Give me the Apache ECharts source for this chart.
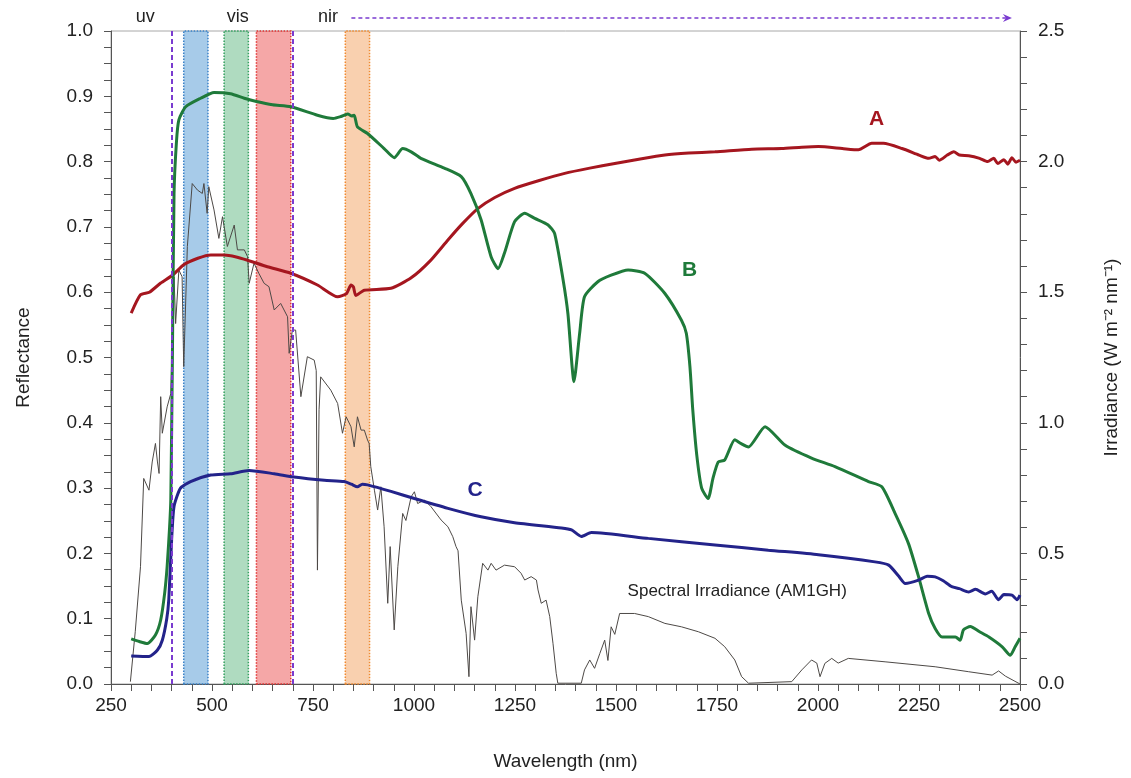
<!DOCTYPE html>
<html>
<head>
<meta charset="utf-8">
<script src="https://cdn.jsdelivr.net/npm/echarts@6/dist/echarts.min.js"></script>
<style>
  html, body { margin: 0; padding: 0; background: #fff; }
  #chart { width: 1131px; height: 778px; }
</style>
</head>
<body>
<div id="chart"></div>
<script>
// Reflectance spectra [wavelength nm, reflectance]
const curveA = [[300,0.568],[323,0.596],[345,0.600],[373,0.614],[402,0.626],[430,0.642],[465,0.652],[497,0.657],[530,0.657],[560,0.654],[588,0.649],[637,0.639],[695,0.629],[761,0.611],[811,0.593],[833,0.598],[844,0.611],[850,0.608],[856,0.595],[877,0.603],[943,0.606],[993,0.622],[1040,0.648],[1084,0.680],[1120,0.705],[1158,0.728],[1200,0.745],[1249,0.759],[1310,0.771],[1373,0.782],[1435,0.790],[1497,0.797],[1560,0.804],[1621,0.810],[1680,0.813],[1745,0.815],[1836,0.819],[1910,0.820],[1960,0.822],[2001,0.823],[2060,0.820],[2100,0.818],[2133,0.828],[2162,0.828],[2208,0.820],[2250,0.810],[2274,0.805],[2290,0.808],[2300,0.802],[2320,0.810],[2336,0.815],[2350,0.810],[2373,0.809],[2400,0.805],[2420,0.800],[2435,0.805],[2445,0.797],[2460,0.803],[2470,0.796],[2480,0.806],[2490,0.799],[2500,0.802]];

const curveB = [[300,0.069],[320,0.065],[340,0.062],[360,0.075],[373,0.098],[383,0.140],[389,0.180],[395,0.240],[398,0.282],[402,0.500],[406,0.750],[412,0.830],[418,0.864],[435,0.884],[472,0.897],[505,0.906],[546,0.904],[580,0.897],[610,0.892],[650,0.887],[695,0.884],[761,0.871],[800,0.866],[819,0.869],[836,0.873],[846,0.870],[852,0.871],[860,0.853],[885,0.843],[926,0.820],[951,0.806],[972,0.820],[993,0.815],[1017,0.805],[1075,0.790],[1117,0.777],[1141,0.751],[1166,0.711],[1191,0.654],[1208,0.636],[1224,0.660],[1249,0.708],[1274,0.721],[1299,0.713],[1332,0.703],[1348,0.690],[1369,0.619],[1381,0.567],[1396,0.463],[1410,0.537],[1422,0.593],[1455,0.616],[1488,0.626],[1530,0.634],[1571,0.629],[1621,0.598],[1662,0.557],[1674,0.537],[1683,0.486],[1690,0.420],[1700,0.350],[1712,0.300],[1728,0.284],[1740,0.315],[1753,0.340],[1769,0.343],[1794,0.374],[1810,0.368],[1828,0.363],[1869,0.394],[1918,0.366],[1984,0.346],[2042,0.333],[2125,0.310],[2158,0.302],[2191,0.261],[2224,0.215],[2249,0.164],[2274,0.108],[2290,0.085],[2307,0.072],[2340,0.072],[2352,0.067],[2360,0.083],[2377,0.088],[2400,0.080],[2423,0.072],[2456,0.057],[2476,0.044],[2488,0.057],[2500,0.070]];

const curveC = [[300,0.043],[344,0.042],[365,0.052],[377,0.067],[388,0.100],[393,0.129],[400,0.220],[406,0.272],[422,0.300],[447,0.310],[497,0.320],[546,0.322],[592,0.327],[654,0.322],[703,0.317],[778,0.312],[827,0.310],[845,0.306],[860,0.302],[872,0.306],[885,0.305],[943,0.295],[1001,0.284],[1084,0.269],[1166,0.256],[1249,0.247],[1365,0.239],[1390,0.236],[1414,0.226],[1439,0.232],[1580,0.223],[1745,0.213],[1877,0.205],[2001,0.198],[2141,0.187],[2175,0.182],[2200,0.165],[2216,0.154],[2249,0.159],[2270,0.165],[2290,0.164],[2310,0.158],[2331,0.149],[2350,0.146],[2373,0.141],[2390,0.145],[2414,0.138],[2430,0.142],[2447,0.129],[2460,0.137],[2480,0.136],[2493,0.129],[2500,0.136]];

// Solar spectral irradiance (AM1GH) [wavelength nm, W m-2 nm-1]
const irradiance = [[298,0.009],[310,0.20],[323,0.449],[331,0.787],[344,0.742],[352,0.85],[360,0.921],[365,0.85],[369,0.806],[373,1.100],[377,0.960],[389,1.061],[398,1.112],[406,1.559],[410,1.380],[418,1.585],[426,1.559],[430,1.215],[439,1.675],[451,1.916],[464,1.891],[476,1.878],[480,1.916],[488,1.802],[492,1.904],[505,1.815],[517,1.706],[526,1.789],[538,1.675],[555,1.757],[563,1.662],[580,1.662],[588,1.636],[592,1.534],[604,1.611],[616,1.572],[629,1.534],[641,1.521],[654,1.432],[670,1.457],[687,1.406],[691,1.266],[699,1.355],[707,1.355],[720,1.100],[736,1.253],[753,1.240],[758,1.20],[761,0.436],[765,1.05],[769,1.176],[794,1.125],[811,1.074],[823,0.960],[832,1.023],[844,0.985],[852,0.908],[860,1.023],[869,0.972],[877,0.972],[885,0.934],[889,0.921],[893,0.832],[902,0.742],[910,0.666],[918,0.755],[926,0.602],[935,0.309],[941,0.526],[951,0.207],[960,0.449],[972,0.653],[980,0.626],[993,0.717],[1001,0.736],[1009,0.691],[1026,0.704],[1042,0.679],[1067,0.628],[1084,0.602],[1096,0.564],[1104,0.526],[1109,0.510],[1117,0.321],[1129,0.194],[1136,0.028],[1141,0.296],[1150,0.168],[1158,0.334],[1170,0.462],[1183,0.436],[1191,0.462],[1203,0.436],[1224,0.455],[1249,0.449],[1265,0.424],[1274,0.398],[1290,0.411],[1303,0.398],[1307,0.360],[1315,0.309],[1327,0.321],[1336,0.258],[1344,0.156],[1352,0.041],[1356,0.003],[1414,0.003],[1422,0.054],[1435,0.092],[1447,0.060],[1460,0.117],[1472,0.168],[1480,0.090],[1488,0.219],[1497,0.190],[1509,0.270],[1546,0.270],[1580,0.258],[1621,0.232],[1662,0.219],[1704,0.200],[1745,0.175],[1769,0.143],[1794,0.092],[1811,0.028],[1828,0.003],[1935,0.009],[1960,0.054],[1984,0.092],[1997,0.080],[2005,0.028],[2017,0.079],[2034,0.098],[2050,0.080],[2075,0.098],[2166,0.085],[2290,0.066],[2373,0.047],[2431,0.034],[2447,0.050],[2464,0.030],[2500,0.000]];

// Sensor bands [start nm, end nm]
const bandBlue = [430, 490];
const bandGreen = [530, 590];
const bandRed = [610, 695];
const bandNir = [830, 890];

// Region boundaries (nm), region labels [text, nm] and the nir arrow span (nm)
const regionEdges = [400, 700];
const regionLabels = [['uv', 335], ['vis', 564], ['nir', 787]];
const nirArrow = [845, 2480];

const xTicks = { min: 250, max: 2500, step: 250 };
const FONT = '"Liberation Sans", Arial, sans-serif';

const colA = '#a5161f', colB = '#1f7a3a', colC = '#23238a', colIrr = '#4d4946';
const violet = '#7a3bd0';

function band(range, fill, edge) {
  return [{ xAxis: range[0], itemStyle: { color: fill, borderColor: edge, borderWidth: 1.5, borderType: 'dotted' } }, { xAxis: range[1] }];
}

function curveLabel(text, coord, color) {
  return {
    symbol: 'circle', symbolSize: 0, silent: true,
    data: [{ coord: coord }],
    label: { show: true, formatter: text, color: color, fontSize: 21, fontWeight: 'bold', fontFamily: FONT }
  };
}

const chart = echarts.init(document.getElementById('chart'));
const axisLine = { show: true, lineStyle: { color: '#555', width: 1 } };
const tick = { show: true, length: 7, lineStyle: { color: '#555' } };

chart.setOption({
  animation: false,
  backgroundColor: '#fff',
  grid: { left: 111, right: 111, top: 31, bottom: 94, show: true, borderColor: '#a8a8a8', borderWidth: 1 },
  xAxis: {
    type: 'value', min: xTicks.min, max: xTicks.max, interval: xTicks.step,
    axisLine: axisLine, axisTick: tick,
    minorTick: { show: true, splitNumber: 5, length: 7, lineStyle: { color: '#555' } },
    splitLine: { show: false },
    axisLabel: { fontSize: 19, color: '#222', fontFamily: FONT, margin: 12, formatter: v => String(v) },
    name: 'Wavelength (nm)', nameLocation: 'middle', nameGap: 68,
    nameTextStyle: { fontSize: 19, color: '#222', fontFamily: FONT }
  },
  yAxis: [{
    type: 'value', min: 0, max: 1, interval: 0.1,
    axisLine: axisLine, axisTick: tick,
    minorTick: { show: true, splitNumber: 4, length: 7, lineStyle: { color: '#555' } },
    splitLine: { show: false },
    axisLabel: { fontSize: 19, color: '#222', fontFamily: FONT, margin: 18, formatter: v => v.toFixed(1) },
    name: 'Reflectance', nameLocation: 'middle', nameGap: 78, nameRotate: 90,
    nameTextStyle: { fontSize: 19, color: '#222', fontFamily: FONT }
  }, {
    type: 'value', min: 0, max: 2.5, interval: 0.5, position: 'right',
    axisLine: axisLine, axisTick: tick,
    minorTick: { show: true, splitNumber: 5, length: 7, lineStyle: { color: '#555' } },
    splitLine: { show: false },
    axisLabel: { fontSize: 19, color: '#222', fontFamily: FONT, margin: 18, formatter: v => v.toFixed(1) },
    name: 'Irradiance (W m\u207B\u00B2 nm\u207B\u00B9)', nameLocation: 'middle', nameGap: 82, nameRotate: 90,
    nameTextStyle: { fontSize: 19, color: '#222', fontFamily: FONT }
  }],
  series: [
    {
      name: 'Spectral Irradiance (AM1GH)', type: 'line', yAxisIndex: 1, data: irradiance,
      showSymbol: false, lineStyle: { color: colIrr, width: 1 }, z: 2,
      markPoint: {
        symbol: 'circle', symbolSize: 0, silent: true,
        data: [{ coord: [1800, 0.356] }],
        label: { show: true, formatter: 'Spectral Irradiance (AM1GH)', color: '#222', fontSize: 17, fontFamily: FONT }
      }
    },
    {
      name: 'A', type: 'line', data: curveA, showSymbol: false, smooth: 0.2,
      lineStyle: { color: colA, width: 3 }, z: 2,
      markPoint: curveLabel('A', [2145, 0.865], colA)
    },
    {
      name: 'B', type: 'line', data: curveB, showSymbol: false, smooth: 0.2,
      lineStyle: { color: colB, width: 3 }, z: 2,
      markPoint: curveLabel('B', [1682, 0.634], colB)
    },
    {
      name: 'C', type: 'line', data: curveC, showSymbol: false, smooth: 0.2,
      lineStyle: { color: colC, width: 3 }, z: 2,
      markPoint: curveLabel('C', [1151, 0.297], colC)
    },
    {
      // sensor bands and uv / vis / nir boundaries
      name: 'regions', type: 'line', data: [], z: 4, silent: true,
      markArea: {
        silent: true,
        data: [
          band(bandBlue, 'rgba(95,160,215,0.55)', '#3b82c8'),
          band(bandGreen, 'rgba(110,190,140,0.55)', '#35a060'),
          band(bandRed, 'rgba(236,95,95,0.55)', '#e03535'),
          band(bandNir, 'rgba(244,170,110,0.55)', '#f08a30')
        ]
      },
      markLine: {
        silent: true, symbol: ['none', 'none'], label: { show: false },
        data: regionEdges.map(x => ({ xAxis: x, lineStyle: { color: violet, width: 2, type: [5, 3] } }))
      }
    }
  ]
});

// Region names and the nir arrow sit just above the plot frame
function drawRegionHeader() {
  const labelY = 1.021;
  const els = regionLabels.map(r => {
    const p = chart.convertToPixel({ xAxisIndex: 0, yAxisIndex: 0 }, [r[1], labelY]);
    return {
      type: 'text', x: p[0], y: p[1], silent: true,
      style: { text: r[0], fill: '#222', fontSize: 18, fontFamily: FONT, align: 'center', verticalAlign: 'middle' }
    };
  });
  const a0 = chart.convertToPixel({ xAxisIndex: 0, yAxisIndex: 0 }, [nirArrow[0], 1.02]);
  const a1 = chart.convertToPixel({ xAxisIndex: 0, yAxisIndex: 0 }, [nirArrow[1], 1.02]);
  els.push({
    type: 'line', silent: true,
    shape: { x1: a0[0], y1: a0[1], x2: a1[0] - 6, y2: a1[1] },
    style: { stroke: violet, lineWidth: 1.5, lineDash: [4, 3] }
  });
  els.push({
    type: 'polygon', silent: true,
    shape: { points: [[a1[0], a1[1]], [a1[0] - 9, a1[1] - 4], [a1[0] - 6, a1[1]], [a1[0] - 9, a1[1] + 4]] },
    style: { fill: violet }
  });
  chart.setOption({ graphic: { elements: els } });
}
drawRegionHeader();
</script>
</body>
</html>
